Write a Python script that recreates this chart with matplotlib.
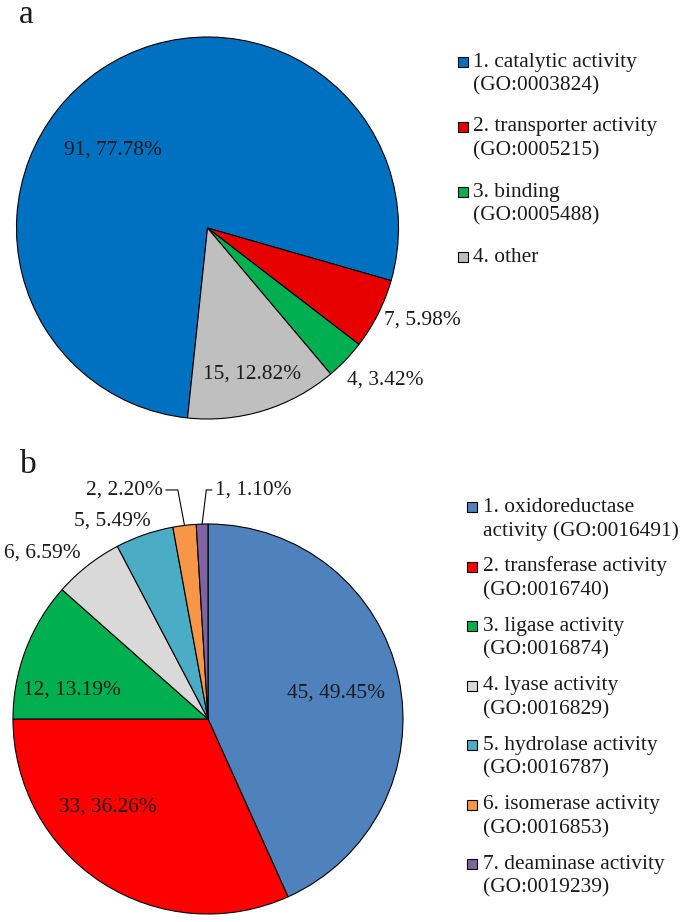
import numpy as np
import matplotlib
matplotlib.use("Agg")
import matplotlib.pyplot as plt
from matplotlib.patches import Rectangle

plt.rcParams['font.family'] = ['Liberation Serif', 'DejaVu Serif']
plt.rcParams['font.size'] = 15.4

# panel a: GO molecular function of all proteins
a_labels = ["1. catalytic activity\n(GO:0003824)",
            "2. transporter activity\n(GO:0005215)",
            "3. binding\n(GO:0005488)",
            "4. other"]
a_counts = [91, 7, 4, 15]
a_pcts = [77.78, 5.98, 3.42, 12.82]
a_colors = ["#0070C0", "#E60000", "#00B050", "#BFBFBF"]

# panel b: catalytic activity breakdown
b_labels = ["1. oxidoreductase\nactivity (GO:0016491)",
            "2. transferase activity\n(GO:0016740)",
            "3. ligase activity\n(GO:0016874)",
            "4. lyase activity\n(GO:0016829)",
            "5. hydrolase activity\n(GO:0016787)",
            "6. isomerase activity\n(GO:0016853)",
            "7. deaminase activity\n(GO:0019239)"]
b_counts = [45, 33, 12, 6, 5, 2, 1]
b_pcts = [49.45, 36.26, 13.19, 6.59, 5.49, 2.20, 1.10]
b_colors = ["#4F81BD", "#FF0000", "#00B050", "#D9D9D9",
            "#4BACC6", "#F79646", "#8064A2"]

W, H = 685, 922
fig = plt.figure(figsize=(W / 100, H / 100), dpi=100)
txt_color = "#1a1a1a"


def pie_axes(cx, cy, r):
    return fig.add_axes([(cx - r) / W, (H - cy - r) / H, 2 * r / W, 2 * r / H])


def draw_pie(ax, counts, pcts, colors, start, lab_r, lab_nudge, lab_ha):
    wedges, _ = ax.pie(counts, colors=colors, startangle=start, counterclock=False,
                       wedgeprops=dict(edgecolor="black", linewidth=0.8))
    ax.set_xlim(-1, 1)
    ax.set_ylim(-1, 1)
    ax.axis("off")
    texts = []
    for w, c, p, r, dn, ha in zip(wedges, counts, pcts, lab_r, lab_nudge, lab_ha):
        ang = np.deg2rad((w.theta1 + w.theta2) / 2 + dn)
        t = ax.text(r * np.cos(ang), r * np.sin(ang), f"{c}, {p:.2f}%",
                    ha=ha, va="center", color=txt_color)
        texts.append(t)
    return wedges, texts


def draw_legend(labels, colors, x_box, x_text, y0, step, box=10, gap=24):
    for i, (lab, col) in enumerate(zip(labels, colors)):
        y = y0 + i * step
        fig.add_artist(Rectangle((x_box / W, (H - y - box / 2) / H), box / W, box / H,
                                 facecolor=col, edgecolor="black", linewidth=0.8,
                                 transform=fig.transFigure))
        for j, line in enumerate(lab.split("\n")):
            fig.text(x_text / W, (H - y - j * gap) / H, line, ha="left", va="center",
                     color=txt_color)


# ---- a ----
ax_a = pie_axes(207.5, 228, 191)
draw_pie(ax_a, a_counts, a_pcts, a_colors, 264,
         lab_r=[0.64, 1.04, 1.08, 0.80],
         lab_nudge=[16.5, -0.8, -3.6, 0],
         lab_ha=["center", "left", "left", "center"])
draw_legend(a_labels, a_colors, 458, 473, 62, 65)
fig.text(19 / W, (H - 23) / H, "a", fontsize=24, va="baseline", ha="left", color=txt_color)

# ---- b ----
ax_b = pie_axes(208, 719, 195)
wb, tb = draw_pie(ax_b, b_counts, b_pcts, b_colors, 90,
                  lab_r=[0.67, 0.683, 0.713, 1.20, 1.13, 1.197, 1.175],
                  lab_nudge=[-0.6, -15.8, 8.8, 6.9, 6.8, 4.2, -3.4],
                  lab_ha=["center", "center", "center", "center", "center", "right", "left"])

# leader lines for the two smallest slices
for w, t, angB in zip(wb[5:], tb[5:], [100.6, 83]):
    mid = np.deg2rad((w.theta1 + w.theta2) / 2)
    t.set_visible(False)
    ax_b.annotate(t.get_text(), xy=(np.cos(mid), np.sin(mid)), xytext=t.get_position(),
                  ha=t.get_ha(), va="center", color=txt_color,
                  arrowprops=dict(arrowstyle="-", color="black", lw=0.8,
                                  shrinkA=0, shrinkB=0,
                                  connectionstyle=f"angle,angleA=0,angleB={angB},rad=0"))

draw_legend(b_labels, b_colors, 467, 483, 507, 59.5)
fig.text(20 / W, (H - 473) / H, "b", fontsize=24, va="baseline", ha="left", color=txt_color)

fig.savefig("out.png", dpi=100)
